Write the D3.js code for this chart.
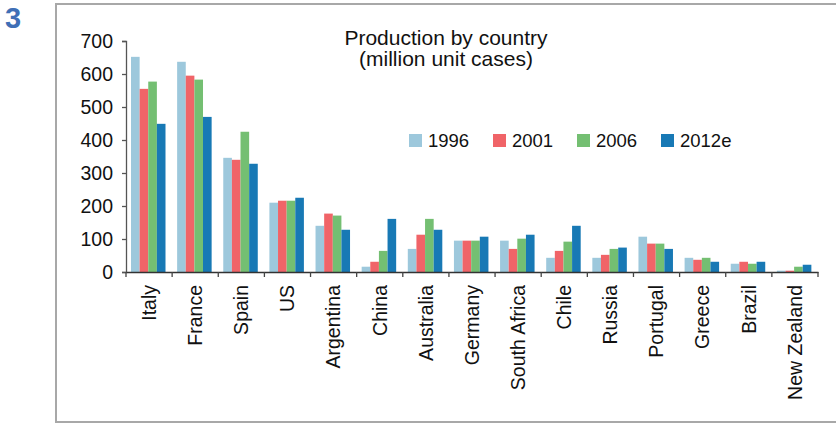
<!DOCTYPE html>
<html>
<head>
<meta charset="utf-8">
<script src="https://cdn.jsdelivr.net/npm/d3@7"></script>
<style>
  html, body { margin: 0; padding: 0; background: #fff; }
  svg { display: block; font-family: "Liberation Sans", Arial, sans-serif; }
</style>
</head>
<body>
<svg id="chart" width="836" height="423"></svg>
<script>
// Wine production by country, million unit cases
const countries = ["Italy", "France", "Spain", "US", "Argentina", "China", "Australia",
  "Germany", "South Africa", "Chile", "Russia", "Portugal", "Greece", "Brazil", "New Zealand"];
const seriesNames = ["1996", "2001", "2006", "2012e"];
const v1996  = [652, 637, 346, 210, 140, 16, 70, 95, 95, 43, 43, 107, 43, 25, 4];
const v2001  = [555, 595, 340, 216, 177, 31, 113, 95, 70, 64, 52, 86, 37, 31, 4];
const v2006  = [577, 583, 425, 216, 171, 64, 161, 95, 101, 92, 70, 86, 43, 25, 16];
const v2012e = [449, 470, 328, 225, 128, 161, 128, 107, 113, 140, 74, 70, 31, 31, 22];
const yTicks = [0, 100, 200, 300, 400, 500, 600, 700];
const colors = ["#9dc8dc", "#f06468", "#74bf72", "#1879b5"];

const seriesValues = [v1996, v2001, v2006, v2012e];
const rows = countries.map((c, i) => ({
  country: c,
  values: seriesNames.map((s, k) => ({ series: s, value: seriesValues[k][i] }))
}));

const svg = d3.select("#chart");

// Outer frame
svg.append("rect")
  .attr("x", 56).attr("y", 4)
  .attr("width", 800).attr("height", 418)
  .attr("fill", "none").attr("stroke", "#a8a8a8").attr("stroke-width", 2);

// Figure number
svg.append("text")
  .attr("x", 5).attr("y", 28)
  .attr("font-size", 29).attr("font-weight", "bold")
  .attr("fill", "#3f6fb6")
  .text("3");

const plotLeft = 126, plotRight = 818, plotTop = 41, plotBottom = 272;

const x0 = d3.scaleBand().domain(countries).range([plotLeft, plotRight]).padding(0);
const x1 = d3.scaleBand().domain(seriesNames).range([5, 39.5]).padding(0);
const y = d3.scaleLinear().domain([0, 700]).range([plotBottom, plotTop]);
const color = d3.scaleOrdinal().domain(seriesNames).range(colors);

// Bars
const groups = svg.append("g").selectAll("g")
  .data(rows).join("g")
  .attr("transform", d => `translate(${x0(d.country)},0)`);
groups.selectAll("rect")
  .data(d => d.values).join("rect")
  .attr("x", d => x1(d.series))
  .attr("width", x1.bandwidth())
  .attr("y", d => y(d.value))
  .attr("height", d => y(0) - y(d.value))
  .attr("fill", d => color(d.series));

// Y axis
const yAxis = svg.append("g")
  .attr("transform", `translate(${plotLeft},0)`)
  .call(d3.axisLeft(y).tickValues(yTicks).tickSize(4).tickPadding(9).tickFormat(d3.format("d")));
yAxis.select(".domain").attr("stroke", "#555").attr("stroke-width", 1.3);
yAxis.selectAll(".tick line").attr("stroke", "#555").attr("stroke-width", 1.3);
yAxis.selectAll(".tick text")
  .attr("font-size", 19.5).attr("fill", "#111")
  .attr("font-family", "Liberation Sans, Arial, sans-serif");

// X axis: baseline, boundary ticks and rotated category labels
const xAxis = svg.append("g")
  .attr("transform", `translate(0,${plotBottom})`)
  .call(d3.axisBottom(x0).tickSize(0).tickPadding(0));
xAxis.select(".domain").attr("stroke", "#333").attr("stroke-width", 1.5);
xAxis.selectAll(".tick text")
  .attr("font-size", 19.5).attr("fill", "#111")
  .attr("font-family", "Liberation Sans, Arial, sans-serif")
  .attr("transform", "rotate(-90)")
  .attr("text-anchor", "end")
  .attr("x", -13).attr("y", 0).attr("dy", "0.35em");

const boundaries = countries.map(c => x0(c)).concat([x0(countries[countries.length - 1]) + x0.bandwidth()]);
svg.append("g").selectAll("line")
  .data(boundaries).join("line")
  .attr("x1", d => d).attr("x2", d => d)
  .attr("y1", plotBottom).attr("y2", plotBottom + 5)
  .attr("stroke", "#444").attr("stroke-width", 1.3);

// Title
const title = svg.append("text")
  .attr("x", 446).attr("text-anchor", "middle")
  .attr("font-size", 21).attr("fill", "#111");
title.append("tspan").attr("x", 446).attr("y", 45).text("Production by country");
title.append("tspan").attr("x", 446).attr("y", 66).text("(million unit cases)");

// Legend
const legendX = [409, 493, 577, 661];
const legend = svg.append("g").selectAll("g")
  .data(seriesNames).join("g")
  .attr("transform", (d, i) => `translate(${legendX[i]},134)`);
legend.append("rect")
  .attr("width", 13).attr("height", 13)
  .attr("fill", d => color(d));
legend.append("text")
  .attr("x", 19).attr("y", 13)
  .attr("font-size", 18.5).attr("fill", "#111")
  .text(d => d);
</script>
</body>
</html>
